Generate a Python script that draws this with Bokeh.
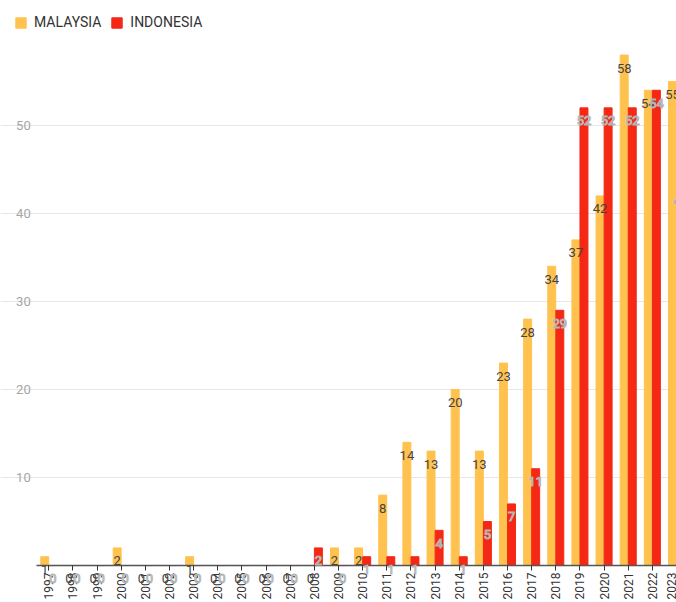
import math
from bokeh.plotting import figure
from bokeh.models import (ColumnDataSource, FixedTicker, Legend, LegendItem,
                          Range1d, LabelSet)
from bokeh.transform import dodge
from bokeh.core.properties import value
from bokeh.embed import file_html
from bokeh.resources import INLINE

# ---- data ----
years = [1997, 1998, 1999, 2000, 2001, 2002, 2003, 2004, 2005, 2006, 2007,
         2008, 2009, 2010, 2011, 2012, 2013, 2014, 2015, 2016, 2017, 2018,
         2019, 2020, 2021, 2022, 2023]
malaysia = [1, 0, 0, 2, 0, 0, 1, 0, 0, 0, 0,
            0, 2, 2, 8, 14, 13, 20, 13, 23, 28, 34,
            37, 42, 58, 54, 55]
indonesia = [0, 0, 0, 0, 0, 0, 0, 0, 0, 0, 0,
             2, 0, 1, 1, 1, 4, 1, 5, 7, 11, 29,
             52, 52, 52, 54, 43]
series_names = ["MALAYSIA", "INDONESIA"]
y_ticks = [10, 20, 30, 40, 50]

MAL_COLOR = "#FFC24F"
INA_COLOR = "#F52815"
FONT = "Roboto"

idx = list(range(len(years)))
src = ColumnDataSource(dict(
    idx=idx,
    mal=malaysia,
    ina=indonesia,
    mal_txt=[str(v) for v in malaysia],
    ina_txt=[str(v) for v in indonesia],
))

X_LEFT = -0.5          # data x where the plotting area (axes) begins
p = figure(width=676, height=602, output_backend="svg", toolbar_location=None,
           x_range=Range1d(-2.0, 26.0), y_range=Range1d(-4.2, 64.2),
           min_border=0)
p.outline_line_color = None

bw = 0.33
r_mal = p.vbar(x=dodge("idx", -0.167, range=p.x_range), top="mal", width=bw,
               source=src, fill_color=MAL_COLOR, line_color=MAL_COLOR)
r_ina = p.vbar(x=dodge("idx", 0.167, range=p.x_range), top="ina", width=bw,
               source=src, fill_color=INA_COLOR, line_color=INA_COLOR)

lab_mal = LabelSet(x=dodge("idx", -0.167, range=p.x_range), y="mal", text="mal_txt",
                   source=src, text_align="center", text_baseline="middle",
                   y_offset=-13, text_font=value(FONT), text_font_size="13px",
                   text_color="#444444")
lab_ina = LabelSet(x=dodge("idx", 0.167, range=p.x_range), y="ina", text="ina_txt",
                   source=src, text_align="center", text_baseline="middle",
                   y_offset=-13, text_font=value(FONT), text_font_size="13px",
                   text_color="white", text_outline_color="#b4b4b4")
p.add_layout(lab_mal)
p.add_layout(lab_ina)

p.xgrid.grid_line_color = None
p.ygrid.grid_line_color = "#e6e6e6"
p.ygrid.ticker = FixedTicker(ticks=y_ticks)
p.ygrid.bounds = (X_LEFT, 26.0)

ya = p.yaxis[0]
ya.fixed_location = X_LEFT
ya.ticker = FixedTicker(ticks=y_ticks)
ya.axis_line_color = None
ya.major_tick_line_color = None
ya.minor_tick_line_color = None
ya.major_tick_out = 0
ya.major_tick_in = 0
ya.major_label_standoff = 6
ya.major_label_text_font = FONT
ya.major_label_text_font_size = "13px"
ya.major_label_text_color = "#a6a6a6"

xa = p.xaxis[0]
xa.fixed_location = 0
xa.bounds = (X_LEFT, 26.0)
xa.ticker = FixedTicker(ticks=idx)
xa.major_label_overrides = {i: str(y) for i, y in zip(idx, years)}
xa.major_label_orientation = math.pi / 2
xa.axis_line_color = "#555555"
xa.axis_line_width = 1.5
xa.major_tick_line_color = "#333333"
xa.major_tick_out = 5
xa.major_tick_in = 0
xa.minor_tick_line_color = None
xa.major_label_standoff = 2
xa.major_label_text_font = FONT
xa.major_label_text_font_size = "12px"
xa.major_label_text_color = "#333333"

legend = Legend(items=[LegendItem(label=series_names[0], renderers=[r_mal]),
                       LegendItem(label=series_names[1], renderers=[r_ina])],
                orientation="horizontal", location="top_left",
                border_line_color=None, background_fill_alpha=0,
                padding=0, margin=14, glyph_width=13, glyph_height=13,
                label_standoff=7, spacing=9, label_height=13,
                label_text_font=FONT, label_text_font_size="14px",
                label_text_color="#333333")
p.add_layout(legend)

open("out.html", "w").write(file_html(p, INLINE))
